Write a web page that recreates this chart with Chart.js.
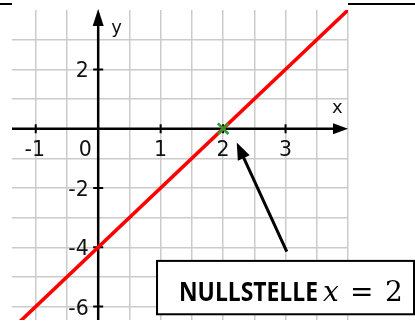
<!DOCTYPE html>
<html><head><meta charset="utf-8">
<script src="https://cdn.jsdelivr.net/npm/chart.js@4/dist/chart.umd.min.js"></script>
<style>html,body{margin:0;padding:0;background:#fff;overflow:hidden}#wrap{width:415px;height:330px;position:relative}canvas{display:block}</style>
</head><body><div id="wrap"><canvas id="c" width="415" height="330"></canvas></div>
<script>
// ---- data ----
const lineX = [-1.5, 4];          // f(x) = 2x - 4 (red line), end points
const lineY = [-7, 4];
const rootX = [2];                // Nullstelle marker
const rootY = [0];
const xTickValues = [-1, 0, 1, 2, 3];
const xTickLabels = ['-1', '0', '1', '2', '3'];
const yTickValues = [2, -2, -4, -6];
const yTickLabels = ['2', '-2', '-4', '-6'];
const xGridValues = [-1, -0.5, 0, 0.5, 1, 1.5, 2, 2.5, 3, 3.5, 4];
const yGridValues = [-6, -5, -4, -3, -2, -1, 0, 1, 2, 3];
const xRange = [-1.38, 4];
const yRange = [-6.45, 4];
const xAxisName = 'x';
const yAxisName = 'y';
const noteTitle = 'NULLSTELLE';
const noteMath = ['x', '=', '2'];
const arrowFrom = [3.02, -4.15];   // annotation arrow (data units)
const arrowTo = [2.218, -0.465];
const noteBoxX = [0.942, 5.057];   // annotation box corners (data units)
const noteBoxY = [-4.46, -6.26];

function arrowHead(ctx, tx, ty, fx, fy, len, half) {
  const dx = fx - tx, dy = fy - ty, l = Math.hypot(dx, dy);
  const ux = dx / l, uy = dy / l;
  const bx = tx + ux * len, by = ty + uy * len;
  ctx.beginPath();
  ctx.moveTo(tx, ty);
  ctx.lineTo(bx - uy * half, by + ux * half);
  ctx.lineTo(bx + uy * half, by - ux * half);
  ctx.closePath();
  ctx.fill();
}

const deco = {
  id: 'deco',
  beforeDraw(chart) {
    const ctx = chart.ctx, a = chart.chartArea;
    ctx.save();
    ctx.fillStyle = '#fff';
    ctx.fillRect(0, 0, chart.width, chart.height);
    ctx.strokeStyle = '#000';
    ctx.lineWidth = 2;
    ctx.beginPath();
    ctx.moveTo(0, 4); ctx.lineTo(a.left, 4);
    ctx.moveTo(a.right, 4); ctx.lineTo(chart.width, 4);
    ctx.stroke();
    ctx.restore();
  },
  beforeDatasetsDraw(chart) {
    const ctx = chart.ctx, xs = chart.scales.x, ys = chart.scales.y, a = chart.chartArea;
    const x0 = xs.getPixelForValue(0), y0 = ys.getPixelForValue(0);
    ctx.save();
    ctx.strokeStyle = '#000';
    ctx.fillStyle = '#000';
    ctx.lineWidth = 2.5;
    ctx.beginPath();
    ctx.moveTo(a.left, y0); ctx.lineTo(a.right - 10, y0);
    ctx.moveTo(x0, a.bottom); ctx.lineTo(x0, a.top + 10);
    ctx.stroke();
    // tick marks
    ctx.lineWidth = 2;
    ctx.beginPath();
    xTickValues.forEach(v => {
      if (v === 0) return;
      const p = xs.getPixelForValue(v);
      ctx.moveTo(p, y0 - 4.5); ctx.lineTo(p, y0 + 4.5);
    });
    yTickValues.forEach(v => {
      const p = ys.getPixelForValue(v);
      ctx.moveTo(x0 - 5, p); ctx.lineTo(x0 + 5, p);
    });
    ctx.stroke();
    // axis arrowheads
    arrowHead(ctx, a.right, y0, a.right - 10, y0, 15, 5.5);
    arrowHead(ctx, x0, a.top - 1, x0, a.top + 10, 17, 5.5);
    // tick labels
    ctx.fillStyle = '#111';
    ctx.font = '20.5px "DejaVu Sans"';
    ctx.textBaseline = 'alphabetic';
    ctx.textAlign = 'center';
    xTickValues.forEach((v, i) => {
      let p = xs.getPixelForValue(v);
      if (v === 0) p -= 13;
      if (v < 0) p -= 1;
      ctx.fillText(xTickLabels[i], p, y0 + 27.5);
    });
    ctx.textAlign = 'right';
    yTickValues.forEach((v, i) => {
      ctx.fillText(yTickLabels[i], x0 - 9.5, ys.getPixelForValue(v) + 8);
    });
    ctx.font = '18px "DejaVu Sans"';
    ctx.textAlign = 'left';
    ctx.fillText(yAxisName, x0 + 13, 33);
    ctx.fillText(xAxisName, a.right - 16, y0 - 15.5);
    ctx.restore();
  },
  afterDraw(chart) {
    const ctx = chart.ctx, xs = chart.scales.x, ys = chart.scales.y;
    ctx.save();
    // annotation arrow
    const fx = xs.getPixelForValue(arrowFrom[0]), fy = ys.getPixelForValue(arrowFrom[1]);
    const tx = xs.getPixelForValue(arrowTo[0]), ty = ys.getPixelForValue(arrowTo[1]);
    ctx.strokeStyle = '#000';
    ctx.fillStyle = '#000';
    ctx.lineWidth = 3;
    ctx.beginPath();
    const l = Math.hypot(fx - tx, fy - ty);
    ctx.moveTo(fx, fy);
    ctx.lineTo(tx + (fx - tx) / l * 10, ty + (fy - ty) / l * 10);
    ctx.stroke();
    arrowHead(ctx, tx, ty, fx, fy, 17, 6.5);
    // annotation box
    const bl = xs.getPixelForValue(noteBoxX[0]), br = xs.getPixelForValue(noteBoxX[1]);
    const bt = ys.getPixelForValue(noteBoxY[0]), bb = ys.getPixelForValue(noteBoxY[1]);
    ctx.fillStyle = '#fff';
    ctx.fillRect(bl, bt, br - bl, bb - bt);
    ctx.lineWidth = 2;
    ctx.strokeRect(bl, bt, br - bl, bb - bt);
    // title text, fitted to the reference width
    ctx.fillStyle = '#000';
    ctx.font = 'bold 27px "Open Sans"';
    ctx.textAlign = 'left';
    ctx.textBaseline = 'alphabetic';
    const w = ctx.measureText(noteTitle).width;
    const targetW = 139;
    const tl = bl + 22, base = bt + 40;
    ctx.save();
    ctx.translate(tl, base);
    ctx.scale(targetW / w, 1);
    ctx.fillText(noteTitle, 0, 0);
    ctx.restore();
    const te = tl + targetW;
    ctx.font = 'italic 28px "DejaVu Serif"';
    ctx.fillText(noteMath[0], te + 5, base);
    ctx.font = '28px "DejaVu Serif"';
    ctx.fillText(noteMath[1], te + 32, base);
    ctx.fillText(noteMath[2], te + 67, base);
    ctx.restore();
  }
};

Chart.defaults.font.family = '"DejaVu Sans"';
new Chart(document.getElementById('c'), {
  type: 'scatter',
  data: {
    datasets: [
      {
        type: 'line',
        data: lineX.map((x, i) => ({ x, y: lineY[i] })),
        borderColor: '#ff0000',
        borderWidth: 3.6,
        pointRadius: 0,
        fill: false,
        order: 1
      },
      {
        type: 'scatter',
        data: rootX.map((x, i) => ({ x, y: rootY[i] })),
        pointStyle: 'crossRot',
        pointRadius: 7.5,
        borderColor: '#2f9a2f',
        borderWidth: 2.6,
        order: 0
      }
    ]
  },
  options: {
    responsive: false,
    devicePixelRatio: 1,
    animation: false,
    layout: { padding: { left: 12, right: 67, top: 4, bottom: 0 } },
    plugins: { legend: { display: false }, tooltip: { enabled: false } },
    scales: {
      x: {
        type: 'linear', min: xRange[0], max: xRange[1],
        afterBuildTicks: s => { s.ticks = xGridValues.map(v => ({ value: v })); },
        ticks: { display: false },
        border: { display: false },
        grid: { color: '#cbcbcb', lineWidth: 1.5, drawTicks: false }
      },
      y: {
        type: 'linear', min: yRange[0], max: yRange[1],
        afterBuildTicks: s => { s.ticks = yGridValues.map(v => ({ value: v })); },
        ticks: { display: false },
        border: { display: false },
        grid: { color: '#cbcbcb', lineWidth: 1.5, drawTicks: false }
      }
    }
  },
  plugins: [deco]
});
</script>
</body></html>
